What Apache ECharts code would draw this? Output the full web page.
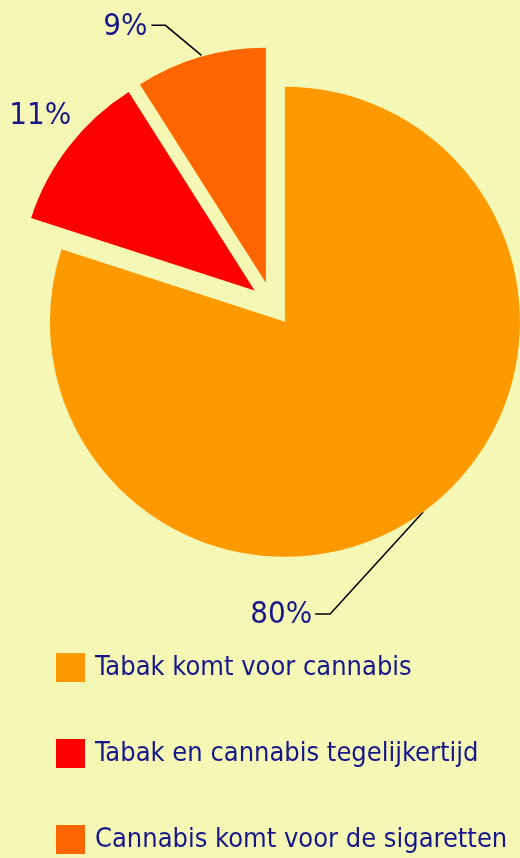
<!DOCTYPE html>
<html><head><meta charset="utf-8">
<script src="https://cdn.jsdelivr.net/npm/echarts@6/dist/echarts.min.js"></script>
<style>html,body{margin:0;padding:0;background:#F5F7B5;} #c{width:520px;height:858px;}</style>
</head><body><div id="c"></div>
<script>
const categories = ['Tabak komt voor cannabis', 'Tabak en cannabis tegelijkertijd', 'Cannabis komt voor de sigaretten'];
const values = [80, 11, 9];
const colors = ['#FF9900', '#FF0000', '#FF6600'];

const NAVY = '#16168A';
const FONT = '"DejaVu Sans Condensed", "Liberation Sans Narrow", sans-serif';

// label placement relative to each slice's outer anchor point (layout only)
const labelPlace = [
  { line: [[13, 18], [-80, 120], [-95, 120]], pos: [-98, 121], align: 'right' },
  { line: null, pos: [-46, -44], align: 'center' },
  { line: [[-5, -23], [-41, -53], [-55, -53]], pos: [-59, -51], align: 'right' }
];

const pieData = categories.map((n, i) => ({
  name: n, value: values[i], selected: true,
  itemStyle: { color: colors[i] },
  select: { itemStyle: { color: colors[i], borderWidth: 0 } }
}));
const labelData = categories.map((n, i) => ({
  name: n, value: values[i],
  labelLine: labelPlace[i].line ? {} : { lineStyle: { opacity: 0 } }
}));

const legends = categories.map((n, i) => ({
  orient: 'vertical', left: 56, top: 653 + i * 86,
  itemWidth: 29, itemHeight: 29, icon: 'rect', padding: 0,
  selectedMode: false,
  data: [n],
  textStyle: { color: NAVY, fontFamily: FONT, fontSize: 27, padding: [0, 0, 0, 5] }
}));

const chart = echarts.init(document.getElementById('c'), null, { renderer: 'canvas' });
chart.setOption({
  backgroundColor: '#F5F7B5',
  animation: false,
  legend: legends,
  series: [
    {
      type: 'pie', center: [272, 304], radius: 235, startAngle: 90, clockwise: true,
      selectedMode: 'multiple', selectedOffset: 22, silent: true,
      label: { show: false }, labelLine: { show: false },
      emphasis: { disabled: true },
      data: pieData
    },
    {
      type: 'pie', center: [272, 304], radius: 235, startAngle: 90, clockwise: true,
      silent: true, avoidLabelOverlap: false,
      itemStyle: { color: 'rgba(0,0,0,0)' },
      emphasis: { disabled: true },
      label: { show: true, position: 'outside', formatter: '{c}%', color: NAVY, fontFamily: FONT, fontSize: 31 },
      labelLine: { show: true, length: 10, length2: 10, lineStyle: { color: '#000', width: 1.5 } },
      labelLayout: function (p) {
        const cfg = labelPlace[p.dataIndex];
        const a = p.labelLinePoints ? p.labelLinePoints[0] : [p.rect.x, p.rect.y];
        const out = { x: a[0] + cfg.pos[0], y: a[1] + cfg.pos[1], align: cfg.align, verticalAlign: 'middle' };
        const pts = cfg.line || [[0, 0], [0, 0], [0, 0]];
        out.labelLinePoints = pts.map(d => [a[0] + d[0], a[1] + d[1]]);
        return out;
      },
      data: labelData
    }
  ]
});
</script>
</body></html>
